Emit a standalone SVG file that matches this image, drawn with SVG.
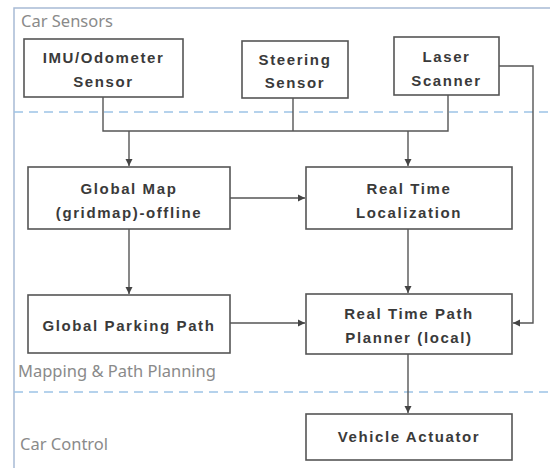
<svg xmlns="http://www.w3.org/2000/svg" width="550" height="468" viewBox="0 0 550 468">
<defs>
<marker id="ah" markerWidth="8" markerHeight="8" refX="7" refY="4" orient="auto" markerUnits="userSpaceOnUse">
<path d="M0,0.5 L7,4 L0,7.5 Z" fill="#444"/>
</marker>
<style>
.box{fill:#fff;stroke:#555;stroke-width:1.6}
.lbl{font-family:"Liberation Sans",Arial,sans-serif;font-weight:bold;font-size:15px;letter-spacing:1.6px;fill:#3a3a3a;text-anchor:middle}
.grp{font-family:"Noto Sans","Open Sans",sans-serif;font-size:16.5px;fill:#8a8a8a}
.frame{fill:none;stroke:#a8bbd5;stroke-width:1.5}
.dash{fill:none;stroke:#9dc3e6;stroke-width:1.6;stroke-dasharray:9 6}
.conn{fill:none;stroke:#555;stroke-width:1.4}
</style>
</defs>
<rect width="550" height="468" fill="#fff"/>
<g id="frame">
<path class="frame" d="M14,468 V8 H550"/>
<path class="dash" d="M14,112 H550"/>
<path class="dash" d="M14,392 H550"/>
<text class="grp" x="21" y="27">Car Sensors</text>
<text class="grp" x="18" y="377">Mapping &amp; Path Planning</text>
<text class="grp" x="20" y="450">Car Control</text>
</g>
<g id="connectors">
<path class="conn" d="M103,97 V131 H448 V95"/>
<path class="conn" d="M293,98 V131"/>
<path class="conn" d="M129,131 V166" marker-end="url(#ah)"/>
<path class="conn" d="M408,131 V166" marker-end="url(#ah)"/>
<path class="conn" d="M499,66 H533 V323 H513" marker-end="url(#ah)"/>
<path class="conn" d="M230,198 H305" marker-end="url(#ah)"/>
<path class="conn" d="M129,229 V294" marker-end="url(#ah)"/>
<path class="conn" d="M408,229 V293" marker-end="url(#ah)"/>
<path class="conn" d="M230,323 H305" marker-end="url(#ah)"/>
<path class="conn" d="M408,354 V413" marker-end="url(#ah)"/>
</g>
<g id="imu">
<rect class="box" x="24" y="39" width="159" height="58"/>
<text class="lbl" x="103.5" y="63">IMU/Odometer</text>
<text class="lbl" x="103.5" y="87">Sensor</text>
</g>
<g id="steering">
<rect class="box" x="242" y="41" width="106" height="57"/>
<text class="lbl" x="295" y="65">Steering</text>
<text class="lbl" x="295" y="88">Sensor</text>
</g>
<g id="laser">
<rect class="box" x="394" y="37" width="105" height="58"/>
<text class="lbl" x="446.5" y="62">Laser</text>
<text class="lbl" x="446.5" y="86">Scanner</text>
</g>
<g id="globalmap">
<rect class="box" x="28" y="167" width="202" height="62"/>
<text class="lbl" x="129" y="194">Global Map</text>
<text class="lbl" x="129" y="218">(gridmap)-offline</text>
</g>
<g id="localization">
<rect class="box" x="306" y="167" width="206" height="62"/>
<text class="lbl" x="409" y="194">Real Time</text>
<text class="lbl" x="409" y="218">Localization</text>
</g>
<g id="parking">
<rect class="box" x="28" y="295" width="202" height="58"/>
<text class="lbl" x="129" y="331">Global Parking Path</text>
</g>
<g id="planner">
<rect class="box" x="306" y="294" width="206" height="60"/>
<text class="lbl" x="409" y="319">Real Time Path</text>
<text class="lbl" x="409" y="343">Planner (local)</text>
</g>
<g id="actuator">
<rect class="box" x="306" y="414" width="206" height="46"/>
<text class="lbl" x="409" y="442">Vehicle Actuator</text>
</g>
</svg>
